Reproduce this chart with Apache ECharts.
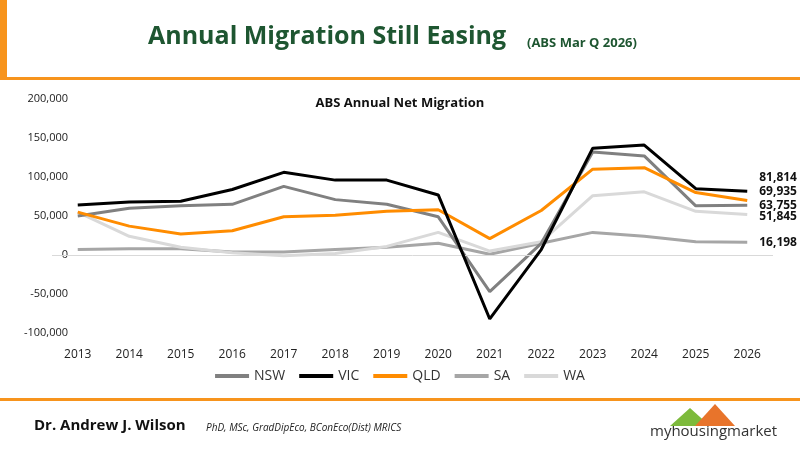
<!DOCTYPE html>
<html>
<head>
<meta charset="utf-8">
<script src="https://cdn.jsdelivr.net/npm/echarts@6/dist/echarts.min.js"></script>
<style>
  html, body { margin: 0; padding: 0; background: #fff; }
  #main { width: 800px; height: 451px; }
</style>
</head>
<body>
<div id="main"></div>
<script>
// data
var years = ['2013','2014','2015','2016','2017','2018','2019','2020','2021','2022','2023','2024','2025','2026'];
var nsw = [50000, 60000, 63000, 65000, 88000, 71000, 65000, 49000, -47000, 15000, 132000, 127000, 63000, 63755];
var vic = [64000, 68000, 69000, 84000, 106000, 96000, 96000, 77000, -82000, 7000, 137000, 141000, 85000, 81814];
var qld = [55000, 37000, 27000, 31000, 49000, 51000, 56000, 58000, 21000, 57000, 110000, 112000, 80000, 69935];
var sa = [7000, 8000, 8000, 4000, 4000, 7000, 10000, 15000, 1000, 15000, 29000, 24000, 17000, 16198];
var wa = [55000, 24000, 10000, 3000, -1000, 2000, 11000, 29000, 5000, 17000, 76000, 81000, 56000, 51845];

var myChart = echarts.init(document.getElementById('main'));

function fmt(v) { return echarts.format.addCommas(v); }

function line(name, data, color, labelDy, z) {
    return {
        name: name, type: 'line', data: data, symbol: 'none', z: z,
        lineStyle: { color: color, width: 3 }, itemStyle: { color: color },
        endLabel: {
            show: true, offset: [4, labelDy], color: '#111', fontWeight: 'bold', fontSize: 12,
            fontFamily: 'Open Sans', formatter: function (p) { return fmt(p.value); }
        }
    };
}

var option = {
    animation: false,
    title: {
        text: 'ABS Annual Net Migration', left: 'center', top: 92,
        textStyle: { fontSize: 13, fontWeight: 'bold', color: '#111', fontFamily: 'Open Sans' }
    },
    legend: {
        bottom: 63, itemWidth: 34, itemHeight: 4, itemGap: 14, icon: 'rect',
        textStyle: { fontSize: 14, color: '#333', fontFamily: 'Open Sans' },
        data: ['NSW', 'VIC', 'QLD', 'SA', 'WA']
    },
    grid: { left: 52, right: 27, top: 99, bottom: 118 },
    xAxis: {
        type: 'category', data: years, boundaryGap: true,
        axisLine: { show: false }, axisTick: { show: false },
        axisLabel: { color: '#222', fontSize: 12, margin: 16, fontFamily: 'Open Sans' }
    },
    yAxis: {
        type: 'value', min: -100000, max: 200000, interval: 50000,
        axisLine: { show: false }, axisTick: { show: false },
        splitLine: { show: false },
        axisLabel: { color: '#222', fontSize: 11, fontFamily: 'Open Sans', formatter: fmt, margin: -16 }
    },
    graphic: [
        { type: 'rect', shape: { x: 0, y: 0, width: 7, height: 80 }, style: { fill: '#F7941D' } },
        { type: 'rect', shape: { x: 0, y: 77, width: 800, height: 3 }, style: { fill: '#F7941D' } },
        { type: 'rect', shape: { x: 0, y: 398, width: 800, height: 3 }, style: { fill: '#F7941D' } },
        { type: 'text', left: 148, top: 24, style: { text: 'Annual Migration Still Easing', fill: '#1E5631', fontSize: 25, fontWeight: 'bold', fontFamily: 'Open Sans' } },
        { type: 'text', left: 527, top: 37, style: { text: '(ABS Mar Q 2026)', fill: '#1E5631', fontSize: 13, fontWeight: 'bold', fontFamily: 'Open Sans' } },
        { type: 'text', left: 34, top: 418, style: { text: 'Dr. Andrew J. Wilson', fill: '#111', fontSize: 15, fontWeight: 'bold', fontFamily: 'Open Sans' } },
        { type: 'text', left: 206, top: 423, style: { text: 'PhD, MSc, GradDipEco, BConEco(Dist) MRICS', fill: '#222', fontSize: 10, fontStyle: 'italic', fontFamily: 'Open Sans' } },
        { type: 'text', left: 650, top: 424, style: { text: 'myhousingmarket', fill: '#333', fontSize: 15, fontFamily: 'Open Sans' } },
        { type: 'polygon', shape: { points: [[670, 426], [690, 408], [710, 426]] }, style: { fill: '#7DBA3C' } },
        { type: 'polygon', shape: { points: [[695, 426], [715, 404], [735, 426]] }, style: { fill: '#E8742B' } }
    ],
    series: [
        line('SA', sa, '#A6A6A6', 0, 1),
        line('WA', wa, '#D9D9D9', 2, 2),
        line('NSW', nsw, '#808080', 0, 3),
        line('QLD', qld, '#FF8C00', -9, 4),
        line('VIC', vic, '#000000', -14, 5)
    ]
};
option.series[0].markLine = {
    silent: true, symbol: 'none', label: { show: false },
    lineStyle: { color: '#D9D9D9', width: 1, type: 'solid' },
    data: [{ yAxis: 0 }]
};

myChart.setOption(option);
</script>
</body>
</html>
